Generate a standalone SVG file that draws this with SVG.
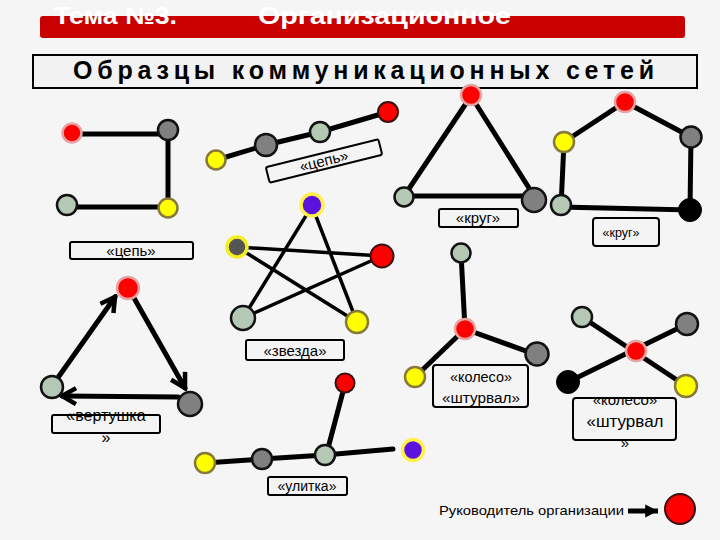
<svg xmlns="http://www.w3.org/2000/svg" width="720" height="540" viewBox="0 0 720 540">
<style>
text{font-family:"Liberation Sans",Arial,sans-serif;fill:#000}
.ln{stroke:#000;stroke-width:5;stroke-linecap:round;fill:none}
.thin{stroke-width:3.5}
.lb{fill:#f4f4f4;stroke:#000;stroke-width:2}
.nR{fill:#f00;stroke:#e6a3a3;stroke-width:2.5}
.nRk{fill:#f00;stroke:#3a1010;stroke-width:2}
.nG{fill:#808080;stroke:#111;stroke-width:2.5}
.nS{fill:#b5c8b5;stroke:#111;stroke-width:2.5}
.nY{fill:#ff0;stroke:#857a3a;stroke-width:2.5}
.nK{fill:#000;stroke:#000;stroke-width:1}
.nP{fill:#5a12dc;stroke:#fff04a;stroke-width:3.5}
.nD{fill:#555;stroke:#f4f020;stroke-width:3.5}
.t15{font-size:15px;text-anchor:middle}
</style>
<defs>
<marker id="chev" viewBox="0 0 20 20" markerUnits="userSpaceOnUse" markerWidth="20" markerHeight="20" refX="17" refY="10" orient="auto">
<path d="M3,2 L17,10 L3,18" fill="none" stroke="#000" stroke-width="4.5"/>
</marker>
<marker id="fill" viewBox="0 0 20 20" markerUnits="userSpaceOnUse" markerWidth="16" markerHeight="16" refX="18" refY="10" orient="auto">
<path d="M2,2 L18,10 L2,18 Z" fill="#000"/>
</marker>
</defs>
<rect width="720" height="540" fill="#f5f5f5"/>
<g id="header">
<rect x="40" y="16" width="645" height="22" rx="3" fill="#c80000"/>
<text x="54" y="24" font-size="24" font-weight="bold" style="fill:#fff" textLength="123" lengthAdjust="spacingAndGlyphs">Тема №3.</text>
<text x="258" y="24" font-size="24" font-weight="bold" style="fill:#fff" textLength="253" lengthAdjust="spacingAndGlyphs">Организационное</text>
</g>
<g id="title">
<rect x="33" y="55" width="664" height="33" fill="#f2f2f2" stroke="#000" stroke-width="2"/>
<text x="73" y="79" font-size="25" font-weight="bold" textLength="581" lengthAdjust="spacing">Образцы коммуникационных сетей</text>
</g>
<g id="connectors">
<polyline class="ln" points="72,134 168,134 168,207 67,207"/>
<polyline class="ln" points="216,160 266,145 320,132 388,112"/>
<polygon class="ln" points="471,96 404,196 534,196"/>
<polygon class="ln" points="564,142 625,102 691,137 690,210 561,207"/>
<g class="ln thin">
<line x1="312" y1="206" x2="243" y2="318"/>
<line x1="312" y1="206" x2="357" y2="322"/>
<line x1="237" y1="247" x2="382" y2="256"/>
<line x1="237" y1="247" x2="357" y2="322"/>
<line x1="243" y1="318" x2="382" y2="256"/>
</g>
<line class="ln" x1="57" y1="379" x2="115" y2="297" marker-end="url(#chev)"/>
<line class="ln" x1="134" y1="298" x2="185" y2="388" marker-end="url(#chev)"/>
<line class="ln" x1="178" y1="397" x2="62" y2="396" marker-end="url(#chev)"/>
<polyline class="ln" points="461,253 465,329 537,355"/>
<line class="ln" x1="465" y1="329" x2="415" y2="377"/>
<line class="ln" x1="582" y1="317" x2="686" y2="386"/>
<line class="ln" x1="568" y1="382" x2="687" y2="324"/>
<polyline class="ln" points="205,463 262,459 325,455 393,449"/>
<line class="ln" x1="345" y1="384" x2="327" y2="452"/>
<line x1="628" y1="511" x2="658" y2="511" stroke="#000" stroke-width="5" marker-end="url(#fill)"/>
</g>
<g id="chain1">
<circle id="c1a" class="nR" cx="72" cy="133" r="9.5"/>
<circle id="c1b" class="nG" cx="168" cy="130" r="10"/>
<circle id="c1c" class="nY" cx="168" cy="208" r="9.5"/>
<circle id="c1d" class="nS" cx="67" cy="205" r="10"/>
<rect class="lb" x="70" y="242" width="123" height="17" rx="2"/>
<text class="t15" x="131" y="256">«цепь»</text>
</g>
<g id="chain2">
<circle id="c2a" class="nY" cx="216" cy="160" r="9.5"/>
<circle id="c2b" class="nG" cx="266" cy="145" r="11"/>
<circle id="c2c" class="nS" cx="320" cy="132" r="10"/>
<circle id="c2d" class="nRk" cx="388" cy="112" r="10"/>
<g transform="translate(324,161) rotate(-14)">
<rect class="lb" x="-58" y="-8" width="116" height="16" rx="2"/>
<text class="t15" x="0" y="5">«цепь»</text>
</g>
</g>
<g id="triangle">
<circle id="t1" class="nR" cx="471" cy="95" r="10"/>
<circle id="t2" class="nS" cx="404" cy="197" r="9.5"/>
<circle id="t3" class="nG" cx="534" cy="200" r="12"/>
<rect class="lb" x="439" y="209" width="79" height="18" rx="2"/>
<text class="t15" x="478" y="223">«круг»</text>
</g>
<g id="pentagon">
<circle id="p1" class="nR" cx="625" cy="102" r="10"/>
<circle id="p2" class="nY" cx="564" cy="142" r="10"/>
<circle id="p3" class="nG" cx="691" cy="137" r="10.5"/>
<circle id="p4" class="nS" cx="561" cy="205" r="10"/>
<circle id="p5" class="nK" cx="690" cy="210" r="11.5"/>
<rect class="lb" x="593" y="218" width="66" height="28" rx="3"/>
<text x="621" y="237" font-size="12.5" text-anchor="middle">«круг»</text>
</g>
<g id="star">
<circle id="s1" class="nP" cx="312" cy="205" r="11"/>
<circle id="s2" class="nD" cx="237" cy="247" r="10"/>
<circle id="s3" class="nRk" cx="382" cy="256" r="11.5"/>
<circle id="s4" class="nS" cx="243" cy="318" r="12"/>
<circle id="s5" class="nY" cx="357" cy="322" r="11"/>
<rect class="lb" x="246" y="340" width="98" height="20" rx="2"/>
<text class="t15" x="295" y="356">«звезда»</text>
</g>
<g id="vertushka">
<circle id="v1" class="nR" cx="128" cy="288" r="11"/>
<circle id="v2" class="nG" cx="190" cy="404" r="12"/>
<circle id="v3" class="nS" cx="52" cy="387" r="11"/>
<rect class="lb" x="52" y="415" width="108" height="18" rx="2"/>
<text x="106" y="421" font-size="16" text-anchor="middle">«вертушка</text>
<text x="106" y="443" font-size="16" text-anchor="middle">»</text>
</g>
<g id="wheel1">
<circle id="w1a" class="nS" cx="461" cy="253" r="9.5"/>
<circle id="w1b" class="nR" cx="465" cy="329" r="10"/>
<circle id="w1c" class="nG" cx="537" cy="354" r="11.5"/>
<circle id="w1d" class="nY" cx="415" cy="377" r="10"/>
<rect class="lb" x="433" y="365" width="95" height="42" rx="3"/>
<text x="481" y="382" font-size="14" text-anchor="middle" textLength="62" lengthAdjust="spacingAndGlyphs">«колесо»</text>
<text x="481" y="403" font-size="14" text-anchor="middle" textLength="78" lengthAdjust="spacingAndGlyphs">«штурвал»</text>
</g>
<g id="wheel2">
<circle id="w2a" class="nS" cx="582" cy="317" r="10"/>
<circle id="w2b" class="nG" cx="687" cy="324" r="11"/>
<circle id="w2c" class="nR" cx="636" cy="351" r="10"/>
<circle id="w2d" class="nK" cx="568" cy="382" r="11.5"/>
<circle id="w2e" class="nY" cx="686" cy="386" r="11"/>
<rect class="lb" x="573" y="398" width="103" height="42" rx="3"/>
<text x="625" y="405" font-size="15" text-anchor="middle">«колесо»</text>
<text x="625" y="427" font-size="17" text-anchor="middle">«штурвал</text>
<text x="625" y="448" font-size="15" text-anchor="middle">»</text>
</g>
<g id="snail">
<circle id="u1" class="nY" cx="205" cy="463" r="10"/>
<circle id="u2" class="nG" cx="262" cy="459" r="10"/>
<circle id="u3" class="nS" cx="325" cy="455" r="10"/>
<circle id="u4" class="nP" cx="413" cy="450" r="10.5"/>
<circle id="u5" class="nRk" cx="345" cy="383" r="9.5"/>
<rect class="lb" x="268" y="477" width="79" height="18" rx="2"/>
<text x="307" y="491" font-size="14" text-anchor="middle">«улитка»</text>
</g>
<g id="legend">
<text x="439" y="515" font-size="13" textLength="185" lengthAdjust="spacingAndGlyphs">Руководитель организации</text>
<circle id="leader" class="nRk" cx="680" cy="509" r="15"/>
</g>
</svg>
